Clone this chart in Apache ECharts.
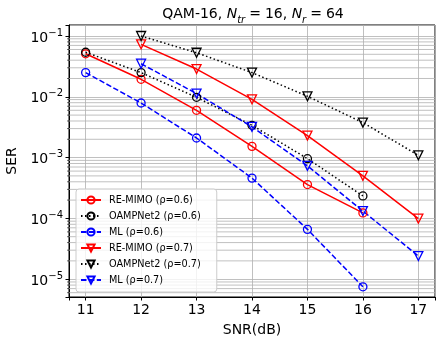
<!DOCTYPE html>
<html>
<head>
<meta charset="utf-8">
<script src="https://cdn.jsdelivr.net/npm/echarts@6/dist/echarts.min.js"></script>
<style>html,body{margin:0;padding:0;background:#fff;}#c{width:443px;height:346px;}</style>
</head>
<body>
<div id="c"></div>
<script>
// ---- data ----
const snr06 = [11, 12, 13, 14, 15, 16];
const snr07 = [12, 13, 14, 15, 16, 17];
const reMimo06 = [0.051, 0.0194, 0.0060, 0.00153, 0.00036, 0.000123];
const oamp06   = [0.054, 0.025, 0.0098, 0.0034, 0.00096, 0.000234];
const ml06     = [0.025, 0.0079, 0.0021, 0.00046, 0.000066, 0.0000075];
const reMimo07 = [0.073, 0.0286, 0.0091, 0.0023, 0.00050, 0.000099];
const oamp07   = [0.100, 0.053, 0.025, 0.0102, 0.00376, 0.00109];
const ml07     = [0.035, 0.0113, 0.0032, 0.00073, 0.000132, 0.000024];
const seriesNames = ['RE-MIMO (ρ=0.6)', 'OAMPNet2 (ρ=0.6)', 'ML (ρ=0.6)', 'RE-MIMO (ρ=0.7)', 'OAMPNet2 (ρ=0.7)', 'ML (ρ=0.7)'];
const xTicks = [11, 12, 13, 14, 15, 16, 17];

const FONT = 'DejaVu Sans';
const xMin = 10.7, xMax = 17.3;
const yMin = Math.pow(10, -5.293), yMax = Math.pow(10, -0.819);

function zip(xs, ys) { return xs.map((x, i) => [x, ys[i]]); }

// minor grid positions (2..9 x 10^k)
const minorVals = [];
for (let k = -6; k <= -1; k++) for (let m = 2; m <= 9; m++) {
  const v = m * Math.pow(10, k);
  if (v > yMin && v < yMax) minorVals.push(v);
}

function mk(name, xs, ys, color, lineType, symbol) {
  return {
    name: name, type: 'line', data: zip(xs, ys), z: 5,
    symbol: symbol, symbolSize: symbol === 'circle' ? 8 : 9,
    symbolRotate: symbol === 'triangle' ? 180 : 0,
    lineStyle: { color: color, width: 1.5, type: lineType },
    itemStyle: { color: 'rgba(255,255,255,0)', borderColor: color, borderWidth: 1.3 },
    emphasis: { disabled: true }, animation: false
  };
}

const chart = echarts.init(document.getElementById('c'), null, { renderer: 'canvas' });
chart.setOption({
  animation: false,
  backgroundColor: '#fff',
  title: {
    text: 'QAM-16, {it|N}{sub|tr}{eq|=}16, {it|N}{sub|r}{eq|=}64',
    left: 248, top: -2, textAlign: 'center',
    textStyle: {
      fontFamily: FONT, fontSize: 14, fontWeight: 'normal', color: '#000', lineHeight: 22,
      rich: {
        it: { fontFamily: FONT, fontSize: 14, fontStyle: 'italic', color: '#000', lineHeight: 22 },
        sub: { fontFamily: FONT, fontSize: 10, fontStyle: 'italic', color: '#000', verticalAlign: 'bottom' },
        eq: { fontFamily: FONT, fontSize: 14, color: '#000', lineHeight: 22, padding: [0, 4, 0, 4] }
      }
    }
  },
  grid: { left: 69, right: 8, top: 25, bottom: 49, show: true, borderColor: '#000', borderWidth: 1,
    backgroundColor: 'transparent', containLabel: false, outerBoundsMode: 'none' },
  legend: {
    orient: 'vertical', left: 76, top: 189,
    data: seriesNames,
    itemWidth: 20, itemHeight: 9, itemGap: 6,
    padding: [6, 16, 7, 4],
    backgroundColor: 'rgba(255,255,255,0.8)', borderColor: '#cccccc', borderWidth: 1, borderRadius: 3,
    textStyle: { fontFamily: FONT, fontSize: 9.7, color: '#000', lineHeight: 10, padding: [0, 0, 0, 3] },
    selectedMode: false
  },
  xAxis: {
    type: 'value', min: xMin, max: xMax, splitNumber: 6,
    name: 'SNR(dB)', nameLocation: 'middle', nameGap: 26,
    nameTextStyle: { fontFamily: FONT, fontSize: 14, color: '#000' },
    axisLine: { show: true, lineStyle: { color: '#000', width: 1 } },
    axisTick: { show: true, inside: false, length: 3.5, lineStyle: { color: '#000' } },
    axisLabel: { fontFamily: FONT, fontSize: 14, color: '#000', margin: 6,
      formatter: v => (xTicks.indexOf(Math.round(v * 1000) / 1000) >= 0 ? String(v) : '') },
    splitLine: { show: true, lineStyle: { color: '#b0b0b0', width: 0.8 } }
  },
  yAxis: {
    type: 'log', logBase: 10, min: yMin, max: yMax,
    name: 'SER', nameLocation: 'middle', nameGap: 49, nameRotate: 90,
    nameTextStyle: { fontFamily: FONT, fontSize: 14, color: '#000' },
    axisLine: { show: true, lineStyle: { color: '#000', width: 1 } },
    axisTick: { show: true, inside: false, length: 3.5, lineStyle: { color: '#000' } },
    axisLabel: {
      fontFamily: FONT, fontSize: 14, color: '#000', margin: 6, padding: [4, 0, 0, 0],
      formatter: function (v) {
        const e = Math.log10(v);
        if (Math.abs(e - Math.round(e)) > 1e-6) return '';
        return '{b|10}{s|−' + Math.abs(Math.round(e)) + '}';
      },
      rich: {
        b: { fontFamily: FONT, fontSize: 14, color: '#000', lineHeight: 20 },
        s: { fontFamily: FONT, fontSize: 10, color: '#000', verticalAlign: 'top' }
      }
    },
    splitLine: { show: true, lineStyle: { color: '#b0b0b0', width: 0.8 } }
  },
  series: [
    {
      name: 'grid-minor', type: 'custom', z: 1, silent: true, clip: false,
      data: minorVals.map(v => [xMin, v]),
      encode: { x: 0, y: 1 },
      renderItem: function (params, api) {
        const v = api.value(1);
        const p0 = api.coord([xMin, v]);
        const p1 = api.coord([xMax, v]);
        return {
          type: 'group', children: [
            { type: 'line', shape: { x1: p0[0], y1: p0[1], x2: p1[0], y2: p1[1] }, style: { stroke: '#b0b0b0', lineWidth: 0.8 } },
            { type: 'line', shape: { x1: p0[0] - 2, y1: p0[1], x2: p0[0], y2: p0[1] }, style: { stroke: '#000', lineWidth: 0.6 } }
          ]
        };
      }
    },
    mk(seriesNames[0], snr06, reMimo06, '#ff0000', 'solid', 'circle'),
    mk(seriesNames[1], snr06, oamp06, '#000000', [1.5, 2.5], 'circle'),
    mk(seriesNames[2], snr06, ml06, '#0000ff', [5.5, 2.4], 'circle'),
    mk(seriesNames[3], snr07, reMimo07, '#ff0000', 'solid', 'triangle'),
    mk(seriesNames[4], snr07, oamp07, '#000000', [1.5, 2.5], 'triangle'),
    mk(seriesNames[5], snr07, ml07, '#0000ff', [5.5, 2.4], 'triangle')
  ]
});
</script>
</body>
</html>
